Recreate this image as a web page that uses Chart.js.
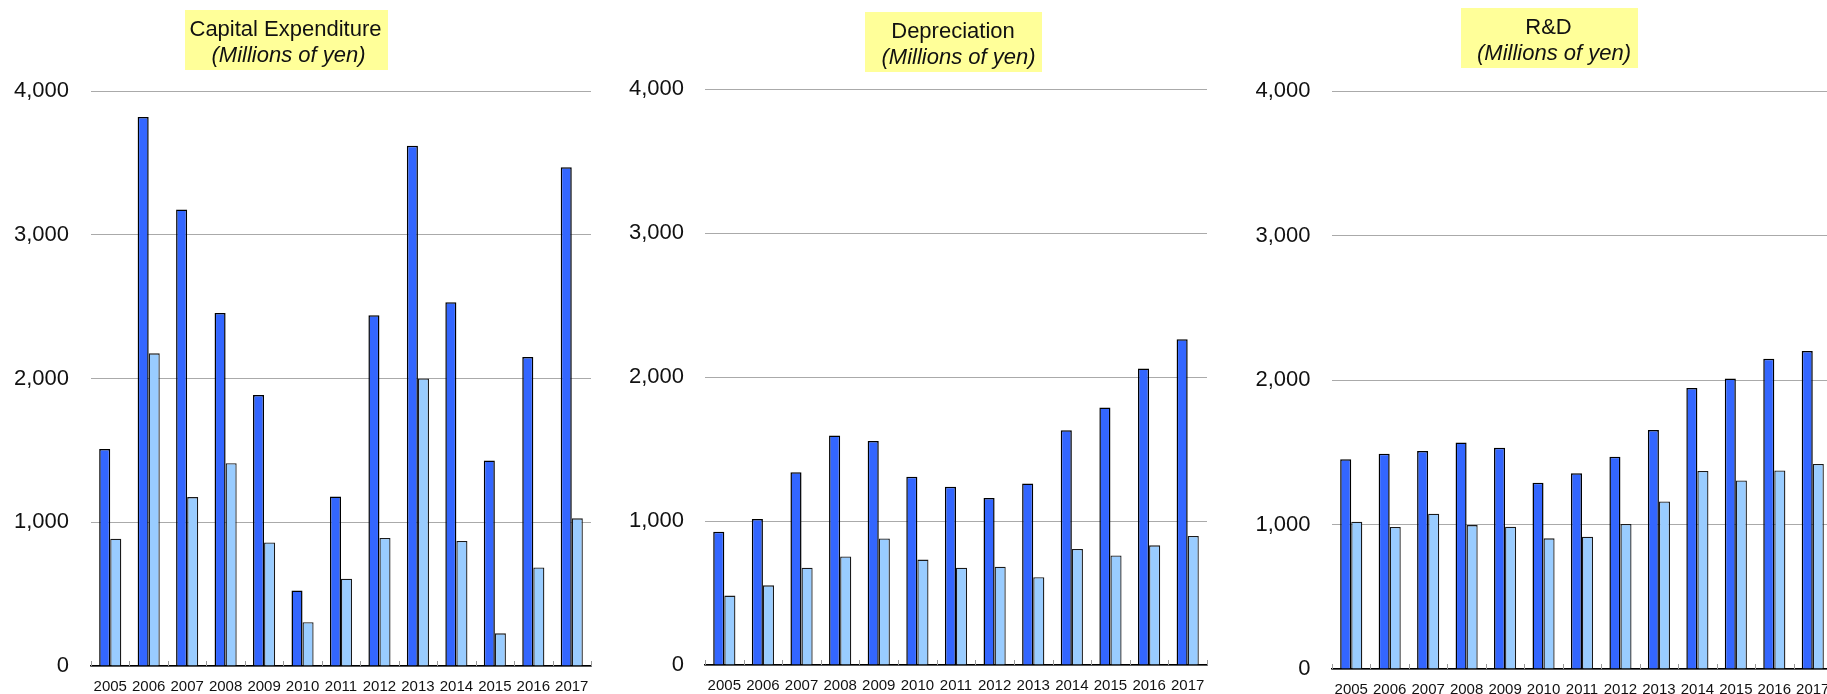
<!DOCTYPE html>
<html>
<head>
<meta charset="utf-8">
<script src="https://cdn.jsdelivr.net/npm/chart.js@4/dist/chart.umd.min.js"></script>
<style>
  html, body { margin: 0; padding: 0; background: #fff; overflow: hidden; }
  body { width: 1827px; height: 694px; position: relative; }
  .panel { position: absolute; top: 0; width: 600px; height: 694px; }
  .panel canvas { display: block; }
</style>
</head>
<body>
<div class="panel" id="p1" style="left:0px"><canvas id="c1" width="600" height="694"></canvas></div>
<div class="panel" id="p2" style="left:614px"><canvas id="c2" width="600" height="694"></canvas></div>
<div class="panel" id="p3" style="left:1241px"><canvas id="c3" width="600" height="694"></canvas></div>
<script>
// Fiscal years shown on every panel
const years = ['2005', '2006', '2007', '2008', '2009', '2010', '2011', '2012', '2013', '2014', '2015', '2016', '2017'];

// Capital expenditure (millions of yen)
const capexConsolidated = [1510, 3820, 3175, 2455, 1885, 525, 1180, 2440, 3620, 2530, 1430, 2150, 3470];
const capexParent       = [885, 2175, 1175, 1410, 860, 305, 607, 890, 2000, 870, 227, 686, 1027];

// Depreciation (millions of yen)
const deprConsolidated = [926, 1014, 1339, 1593, 1556, 1308, 1237, 1160, 1260, 1630, 1788, 2059, 2263];
const deprParent       = [482, 553, 676, 753, 878, 732, 676, 683, 609, 806, 760, 831, 896];

// R&D (millions of yen)
const rdConsolidated = [1451, 1490, 1509, 1568, 1531, 1289, 1354, 1469, 1654, 1945, 2011, 2147, 2201];
const rdParent       = [1019, 983, 1075, 996, 985, 904, 916, 1003, 1160, 1370, 1305, 1374, 1419];

// Y axis ticks
const yTicks = [0, 1000, 2000, 3000, 4000];

// Panel captions
const captionCapex = ['Capital Expenditure', '(Millions of yen)'];
const captionDepr  = ['Depreciation', '(Millions of yen)'];
const captionRd    = ['R&D', '(Millions of yen)'];

const FONT = "'Liberation Sans', Arial, sans-serif";
const DARK = '#3366FF';
const LIGHT = '#99CCFF';

// Yellow caption box drawn above the plot
const captionBox = {
  id: 'captionBox',
  afterDraw(chart, args, opts) {
    const ctx = chart.ctx;
    ctx.save();
    ctx.fillStyle = '#FFFF99';
    ctx.fillRect(opts.box.x, opts.box.y, opts.box.w, opts.box.h);
    ctx.fillStyle = '#111';
    ctx.textAlign = 'center';
    ctx.textBaseline = 'alphabetic';
    opts.lines.forEach((txt, i) => {
      ctx.font = (i === 1 ? 'italic ' : '') + '22px ' + FONT;
      ctx.fillText(txt, opts.centers[i], opts.baselines[i]);
    });
    ctx.restore();
  }
};

// Short grey marks on the category boundaries, rising from the x axis into the plot
const innerTicks = {
  id: 'innerTicks',
  afterDatasetsDraw(chart) {
    const x = chart.scales.x;
    const ctx = chart.ctx;
    const y0 = chart.chartArea.bottom;
    ctx.save();
    ctx.strokeStyle = '#999';
    ctx.lineWidth = 1;
    ctx.beginPath();
    for (let i = 0; i <= x.ticks.length; i++) {
      const px = Math.round(x.getPixelForValue(i - 0.5)) + 0.5;
      ctx.moveTo(px, y0);
      ctx.lineTo(px, y0 - 5);
    }
    ctx.stroke();
    ctx.restore();
  }
};

function makeChart(id, dark, light, caption, layout) {
  return new Chart(document.getElementById(id), {
    type: 'bar',
    data: {
      labels: years,
      datasets: [
        { label: 'Consolidated', data: dark, backgroundColor: DARK, borderColor: '#000', borderWidth: 1.5,
          categoryPercentage: 0.575, barPercentage: 1 },
        { label: 'Non-consolidated', data: light, backgroundColor: LIGHT, borderColor: '#1a1a1a', borderWidth: 1.3,
          categoryPercentage: 0.575, barPercentage: 1 }
      ]
    },
    options: {
      responsive: false,
      animation: false,
      events: [],
      layout: { padding: { top: layout.top, right: layout.right, left: 0, bottom: 0 } },
      plugins: {
        legend: { display: false },
        tooltip: { enabled: false },
        title: { display: false },
        captionBox: { lines: caption, box: layout.box, centers: layout.centers, baselines: layout.baselines }
      },
      scales: {
        x: {
          afterFit(scale) { scale.height = layout.xHeight; },
          grid: { display: false, drawTicks: false },
          border: { display: true, color: '#000', width: 1.5 },
          ticks: { color: '#111', font: { family: FONT, size: 15, lineHeight: 2.2 }, padding: 4, maxRotation: 0, autoSkip: false }
        },
        y: {
          min: 0, max: 4000,
          afterFit(scale) { scale.width = layout.yWidth; },
          afterBuildTicks(scale) { scale.ticks = yTicks.map(v => ({ value: v })); },
          grid: { color: '#aaaaaa', lineWidth: 1, drawTicks: true, tickLength: layout.yPad, tickColor: 'rgba(0,0,0,0)' },
          border: { display: false },
          ticks: {
            color: '#111', font: { family: FONT, size: 22 }, padding: 0,
            callback: v => Number(v).toLocaleString('en-US')
          }
        }
      }
    },
    plugins: [captionBox, innerTicks]
  });
}

makeChart('c1', capexConsolidated, capexParent, captionCapex, {
  top: 91, right: 9, xHeight: 28, yWidth: 91, yPad: 22,
  box: { x: 185, y: 10, w: 203, h: 60 }, centers: [285.5, 288.5], baselines: [36, 62]
});
makeChart('c2', deprConsolidated, deprParent, captionDepr, {
  top: 89, right: 7, xHeight: 29, yWidth: 91, yPad: 21,
  box: { x: 251, y: 12, w: 177, h: 60 }, centers: [339, 344.5], baselines: [37.5, 63.5]
});
makeChart('c3', rdConsolidated, rdParent, captionRd, {
  top: 91, right: 9, xHeight: 25, yWidth: 91, yPad: 21.5,
  box: { x: 220, y: 8, w: 177, h: 60 }, centers: [307.5, 313], baselines: [33.5, 60]
});
</script>
</body>
</html>
